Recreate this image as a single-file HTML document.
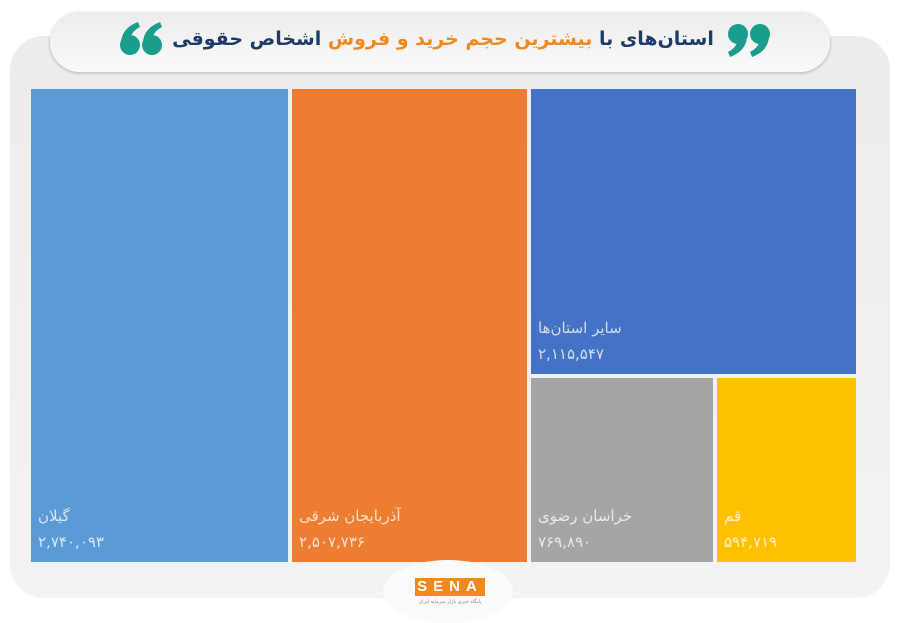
<!DOCTYPE html>
<html><head><meta charset="utf-8"><style>
body{margin:0;width:900px;height:623px;background:#fff;position:relative;overflow:hidden;font-family:"Liberation Sans","Noto Sans CJK SC",sans-serif}
.panel{position:absolute;left:10px;top:36px;width:880px;height:562px;border-radius:34px;background:linear-gradient(#ececec,#f3f3f3);}
.pill{position:absolute;left:50px;top:12px;width:780px;height:60px;border-radius:30px;background:linear-gradient(#ececec,#fafafa);box-shadow:0 1px 3px rgba(0,0,0,.25);}
.title{position:absolute;left:168px;top:28px;width:550px;text-align:center;font-size:19px;font-weight:bold;color:#1d3b66;direction:rtl;font-family:"DejaVu Sans",sans-serif;white-space:nowrap;letter-spacing:-0.5px}
.title span{color:#f08a1e}
.t{position:absolute;color:rgba(255,255,255,.75);font-size:15px;font-family:"DejaVu Sans",sans-serif}
.t div{position:absolute;left:7px;white-space:nowrap}
.logo{position:absolute;left:383px;top:560px;width:130px;height:63px;border-radius:50%;background:#fbfbfb}
</style></head><body>
<div class="panel"></div>
<div class="pill"></div>
<svg style="position:absolute;left:0;top:0" width="900" height="100">
<g fill="#1a9e8c">
<circle cx="130" cy="45" r="10"/><path d="M121 42 Q122 28 138 22 L140 27 Q130 32 130 42Z"/>
<circle cx="152" cy="45" r="10"/><path d="M143 42 Q144 28 160 22 L162 27 Q152 32 152 42Z"/>
<circle cx="738" cy="34" r="10"/><path d="M747 37 Q746 51 730 57 L728 52 Q738 47 738 37Z"/>
<circle cx="760" cy="34" r="10"/><path d="M769 37 Q768 51 752 57 L750 52 Q760 47 760 37Z"/>
</g></svg>
<div class="title">استان‌های با <span>بیشترین حجم خرید و فروش</span> اشخاص حقوقی</div>
<div class="t" style="left:31px;top:89px;width:257px;height:473px;background:#5b9bd5"><div style="top:418px">گیلان</div><div style="top:444px">۲,۷۴۰,۰۹۳</div></div>
<div class="t" style="left:292px;top:89px;width:235px;height:473px;background:#ed7d31"><div style="top:418px">آذربایجان شرقی</div><div style="top:444px">۲,۵۰۷,۷۳۶</div></div>
<div class="t" style="left:531px;top:89px;width:325px;height:285px;background:#4472c4"><div style="top:230px">سایر استان‌ها</div><div style="top:256px">۲,۱۱۵,۵۴۷</div></div>
<div class="t" style="left:531px;top:378px;width:182px;height:184px;background:#a5a5a5"><div style="top:129px">خراسان رضوی</div><div style="top:155px">۷۶۹,۸۹۰</div></div>
<div class="t" style="left:717px;top:378px;width:139px;height:184px;background:#ffc000"><div style="top:129px">قم</div><div style="top:155px">۵۹۴,۷۱۹</div></div>
<div class="logo"></div>
<div style="position:absolute;left:415px;top:578px;width:70px;height:18px;background:#f08a1e;color:#fff;font-weight:bold;font-size:15px;letter-spacing:6px;text-align:center;line-height:18px">SENA</div>
<div style="position:absolute;left:405px;top:599px;width:90px;font-size:5px;color:#888;text-align:center;direction:rtl;white-space:nowrap">پایگاه خبری بازار سرمایه ایران</div>
</body></html>
